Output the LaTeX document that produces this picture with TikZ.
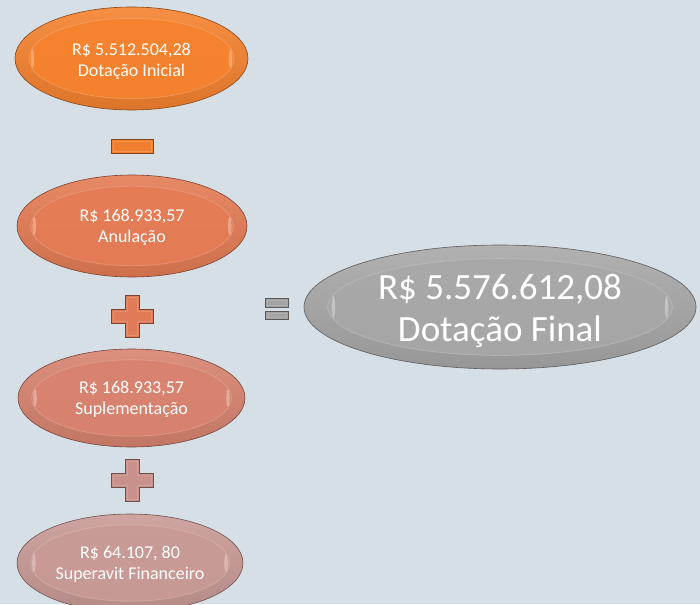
\documentclass[tikz,border=0pt]{standalone}
\usepackage{fontspec}
\setmainfont{Carlito}
\usetikzlibrary{shapes.geometric,calc}
\definecolor{bg}{HTML}{D6DEE6}
\definecolor{cA}{HTML}{F5822E}
\definecolor{cB}{HTML}{E57C55}
\definecolor{cC}{HTML}{D8836F}
\definecolor{cD}{HTML}{C99A96}
\definecolor{cE}{HTML}{A8A8A8}
\definecolor{cP}{HTML}{E07B57}
\definecolor{cQ}{HTML}{C8918B}
\definecolor{cM}{HTML}{F0802F}
\definecolor{cEq}{HTML}{A3A3A3}
\tikzset{
  bev/.style={ellipse, inner sep=0pt,
    draw=#1!55!black, line width=0.6pt,
    top color=#1!90!white, bottom color=#1!90!black,
    path picture={
      \path (path picture bounding box.center) coordinate (ppc)
            (path picture bounding box.north east) coordinate (ppne);
      \fill[#1, opacity=.9] let \p1=($(ppne)-(ppc)$) in
        (ppc) ellipse [x radius={0.88*\x1}, y radius={0.78*\y1}];
      \draw[#1!65!white, line width=0.9pt, opacity=.45] let \p1=($(ppne)-(ppc)$) in
        (ppc) ellipse [x radius={0.88*\x1}, y radius={0.78*\y1}];
      \fill[white, opacity=.3] let \p1=($(ppne)-(ppc)$) in
        ($(ppc)+({-0.85*\x1},0)$) ellipse [x radius=1.8pt, y radius={0.18*\y1}]
        ($(ppc)+({0.85*\x1},0)$) ellipse [x radius=1.8pt, y radius={0.18*\y1}];
    }},
  txt/.style={text=white, align=center, inner sep=0pt},
  smalltext/.style={txt, font=\fontsize{18}{21}\selectfont},
  bigtext/.style={txt, font=\fontsize{37}{42}\selectfont},
  barbox/.style={rectangle, inner sep=0pt, fill=#1, draw=#1!55!black, line width=0.6pt,
    path picture={
      \draw[#1!70!white, line width=0.7pt, opacity=.5]
        ([shift={(2pt,2pt)}]path picture bounding box.south west) rectangle
        ([shift={(-2pt,-2pt)}]path picture bounding box.north east);
    }},
  pics/plussign/.style={code={
    \filldraw[fill=#1, draw=#1!55!black, line width=0.6pt]
      (-7,-21) -- (7,-21) -- (7,-7) -- (21,-7) -- (21,7) -- (7,7) -- (7,21)
      -- (-7,21) -- (-7,7) -- (-21,7) -- (-21,-7) -- (-7,-7) -- cycle;
    \draw[#1!70!white, line width=0.7pt, opacity=.5]
      (-5,-19) -- (5,-19) -- (5,-5) -- (19,-5) -- (19,5) -- (5,5) -- (5,19)
      -- (-5,19) -- (-5,5) -- (-19,5) -- (-19,-5) -- (-5,-5) -- cycle;
  }}
}
\begin{document}
\begin{tikzpicture}[x=1pt,y=-1pt]
  \useasboundingbox (0,0) rectangle (700,604);
  \clip (0,0) rectangle (700,604);
  \fill[bg] (0,0) rectangle (700,604);

  \node[bev=cA, minimum width=233pt, minimum height=103pt] (e1) at (131.5,58.5) {};
  \node[bev=cB, minimum width=230pt, minimum height=102pt] (e2) at (132,226) {};
  \node[bev=cC, minimum width=227pt, minimum height=98pt] (e3) at (131.5,398) {};
  \node[bev=cD, minimum width=226pt, minimum height=98pt] (e4) at (130,563) {};
  \node[bev=cE, minimum width=392pt, minimum height=124pt] (e5) at (500,307) {};

  \node[smalltext] (t1) at ([yshift=-2.5pt]e1.center) {R\$ 5.512.504,28\\Dotação Inicial};
  \node[smalltext] (t2) at ([yshift=-1.5pt]e2.center) {R\$ 168.933,57\\Anulação};
  \node[smalltext] (t3) at ([yshift=-1.5pt]e3.center) {R\$ 168.933,57\\Suplementação};
  \node[smalltext] (t4) at ([yshift=-1.5pt]e4.center) {R\$ 64.107, 80\\Superavit Financeiro};
  \node[bigtext] (t5) at ([yshift=-4pt]e5.center) {R\$ 5.576.612,08\\Dotação Final};

  \node[barbox=cM, minimum width=42pt, minimum height=14pt] (minus) at (132,146) {};
  \pic at (132,316) {plussign=cP};
  \pic at (132,480) {plussign=cQ};
  \node[barbox=cEq, minimum width=23pt, minimum height=9pt] (eqa) at (276.5,302.5) {};
  \node[barbox=cEq, minimum width=23pt, minimum height=8pt] (eqb) at (276.5,315) {};
\end{tikzpicture}
\end{document}
